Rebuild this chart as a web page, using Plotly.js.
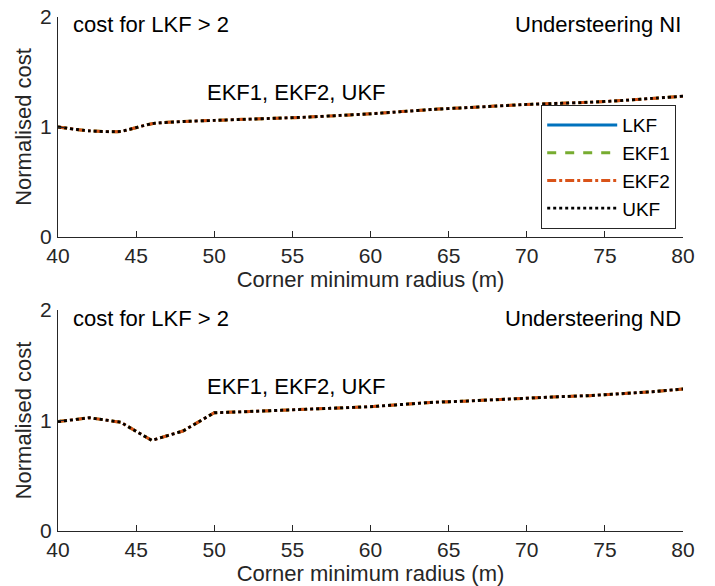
<!DOCTYPE html>
<html><head><meta charset="utf-8">
<script src="https://cdn.plot.ly/plotly-3.0.1.min.js"></script>
<style>html,body{margin:0;padding:0;background:#fff}#chart{width:715px;height:586px}</style>
</head><body><div id="chart"></div>
<script>
// Corner minimum radius (m)
const radius = [40,42,44,46,48,50,52,54,56,58,60,62,64,66,68,70,72,74,76,78,80];
// Understeering NI — normalised cost (LKF > 2, off-chart)
const lkfNI  = radius.map(() => null);
const ekf1NI = [1.00,0.965,0.96,1.03,1.05,1.06,1.07,1.08,1.09,1.105,1.12,1.14,1.16,1.175,1.19,1.205,1.215,1.225,1.24,1.26,1.28];
const ekf2NI = [1.00,0.965,0.96,1.03,1.05,1.06,1.07,1.08,1.09,1.105,1.12,1.14,1.16,1.175,1.19,1.205,1.215,1.225,1.24,1.26,1.28];
const ukfNI  = [1.00,0.965,0.96,1.03,1.05,1.06,1.07,1.08,1.09,1.105,1.12,1.14,1.16,1.175,1.19,1.205,1.215,1.225,1.24,1.26,1.28];
// Understeering ND — normalised cost
const lkfND  = radius.map(() => null);
const ekf1ND = [0.99,1.025,0.985,0.82,0.905,1.07,1.08,1.09,1.10,1.11,1.125,1.145,1.165,1.175,1.19,1.205,1.215,1.225,1.24,1.26,1.285];
const ekf2ND = [0.99,1.025,0.985,0.82,0.905,1.07,1.08,1.09,1.10,1.11,1.125,1.145,1.165,1.175,1.19,1.205,1.215,1.225,1.24,1.26,1.285];
const ukfND  = [0.99,1.025,0.985,0.82,0.905,1.07,1.08,1.09,1.10,1.11,1.125,1.145,1.165,1.175,1.19,1.205,1.215,1.225,1.24,1.26,1.285];
const xTicks = [40,45,50,55,60,65,70,75,80];
const yTicks = [0,1,2];

const FONT = 'Liberation Sans, Arial, sans-serif';
const FS = 22;
const styles = [
  {name:'LKF',  color:'#0072BD', dash:'solid',   width:3},
  {name:'EKF1', color:'#77AC30', dash:'dash',    width:3},
  {name:'EKF2', color:'#D95319', dash:'dashdot', width:3},
  {name:'UKF',  color:'#000000', dash:'dot',     width:2.8}
];
const topSets = [lkfNI, ekf1NI, ekf2NI, ukfNI];
const botSets = [lkfND, ekf1ND, ekf2ND, ukfND];
const traces = [];
styles.forEach((s,i) => {
  traces.push({x: radius, y: topSets[i], xaxis:'x', yaxis:'y', mode:'lines', name:s.name,
    line:{color:s.color, dash:s.dash, width:s.width, shape:'spline', smoothing:0.6}, showlegend:true, legendgroup:s.name});
});
styles.forEach((s,i) => {
  traces.push({x: radius, y: botSets[i], xaxis:'x2', yaxis:'y2', mode:'lines', name:s.name,
    line:{color:s.color, dash:s.dash, width:s.width}, showlegend:false, legendgroup:s.name});
});

const axCommon = {showline:true, linecolor:'#262626', linewidth:1.2, ticks:'inside', ticklen:6,
  tickcolor:'#262626', showgrid:false, zeroline:false, tickfont:{family:FONT, size:21, color:'#262626'},
  automargin:false, mirror:false};
const xDom = [58/715, 683/715];
const tfont = {family:FONT,size:FS,color:'#262626'};
const layout = {
  width:715, height:586, margin:{l:0,r:0,t:0,b:0}, paper_bgcolor:'#fff', plot_bgcolor:'#fff',
  font:{family:FONT, color:'#262626'},
  xaxis: Object.assign({}, axCommon, {domain:xDom, anchor:'y', range:[40,80], tickvals:xTicks,
    ticklabelstandoff:0,
    title:{text:'Corner minimum radius (m)', font:tfont, standoff:3}}),
  yaxis: Object.assign({}, axCommon, {domain:[(586-237)/586,(586-17)/586], anchor:'x', range:[0,2], tickvals:yTicks,
    ticklabelstandoff:1,
    title:{text:'Normalised cost', font:tfont, standoff:2}}),
  xaxis2: Object.assign({}, axCommon, {domain:xDom, anchor:'y2', range:[40,80], tickvals:xTicks,
    ticklabelstandoff:0,
    title:{text:'Corner minimum radius (m)', font:tfont, standoff:3}}),
  yaxis2: Object.assign({}, axCommon, {domain:[(586-531)/586,(586-310)/586], anchor:'x2', range:[0,2], tickvals:yTicks,
    ticklabelstandoff:1,
    title:{text:'Normalised cost', font:tfont, standoff:2}}),
  legend:{x:676/715, y:(586-229)/586, xanchor:'right', yanchor:'bottom', bgcolor:'#fff',
    bordercolor:'#262626', borderwidth:1.2, font:{family:FONT,size:19,color:'#000'}, tracegroupgap:0,
    itemwidth:70},
  showlegend:true,
  annotations:[
    {xref:'x', yref:'paper', x:40.8, y:(586-24)/586, xanchor:'left', yanchor:'middle', showarrow:false,
      text:'cost for LKF > 2', font:{family:FONT,size:FS,color:'#000'}},
    {xref:'x', yref:'paper', x:80, y:(586-24)/586, xanchor:'right', yanchor:'middle', showarrow:false,
      text:'Understeering NI', font:{family:FONT,size:FS,color:'#000'}},
    {xref:'x', yref:'y', x:49.4, y:1.31, xanchor:'left', yanchor:'middle', showarrow:false,
      text:'EKF1, EKF2, UKF', font:{family:FONT,size:FS,color:'#000'}},
    {xref:'x2', yref:'paper', x:40.8, y:(586-318)/586, xanchor:'left', yanchor:'middle', showarrow:false,
      text:'cost for LKF > 2', font:{family:FONT,size:FS,color:'#000'}},
    {xref:'x2', yref:'paper', x:80, y:(586-318)/586, xanchor:'right', yanchor:'middle', showarrow:false,
      text:'Understeering ND', font:{family:FONT,size:FS,color:'#000'}},
    {xref:'x2', yref:'y2', x:49.4, y:1.31, xanchor:'left', yanchor:'middle', showarrow:false,
      text:'EKF1, EKF2, UKF', font:{family:FONT,size:FS,color:'#000'}}
  ]
};
Plotly.newPlot('chart', traces, layout, {displayModeBar:false, staticPlot:true});
</script></body></html>
